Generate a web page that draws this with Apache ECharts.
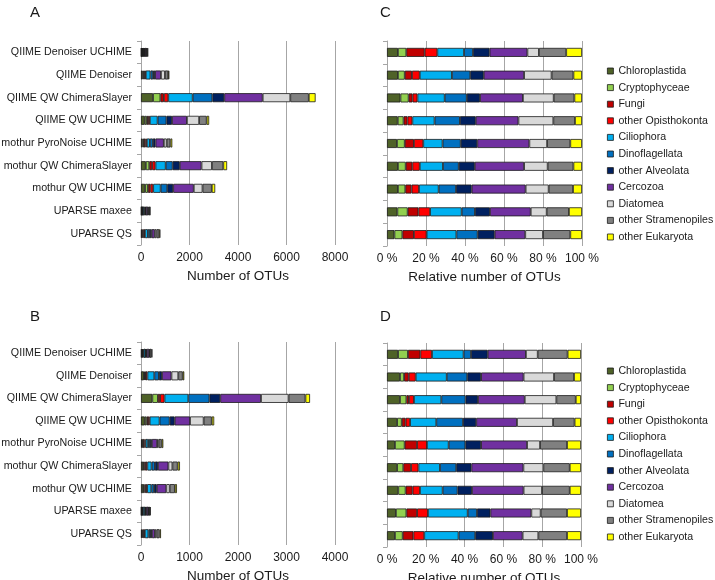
<!DOCTYPE html>
<html>
<head>
<meta charset="utf-8">
<script src="https://cdn.jsdelivr.net/npm/echarts@6/dist/echarts.min.js"></script>
<style>
html,body{margin:0;padding:0;background:#fff;}
#chart{width:715px;height:580px;}
</style>
</head>
<body>
<div id="chart"></div>
<script>
// ---- data ----
const categories = ['QIIME Denoiser UCHIME','QIIME Denoiser','QIIME QW ChimeraSlayer','QIIME QW UCHIME','mothur PyroNoise UCHIME','mothur QW ChimeraSlayer','mothur QW UCHIME','UPARSE maxee','UPARSE QS'];
const groups = ['Chloroplastida','Cryptophyceae','Fungi','other Opisthokonta','Ciliophora','Dinoflagellata','other Alveolata','Cercozoa','Diatomea','other Stramenopiles','other Eukaryota'];

// total number of OTUs (panels A and B)
const totalsA = [290, 1170, 7200, 2810, 1290, 3550, 3060, 385, 800];
const totalsB = [233, 892, 3485, 1509, 460, 803, 741, 199, 412];

// relative share (%) per group, panel C (dataset of A)
const C_Chloroplastida      = [5.6, 5.6, 6.9, 5.5, 5.1, 5.6, 5.6, 5.3, 3.8];
const C_Cryptophyceae       = [4.3, 3.5, 4.2, 3.0, 4.0, 4.0, 3.8, 5.3, 4.1];
const C_Fungi               = [9.4, 3.7, 2.0, 2.0, 4.7, 3.4, 3.2, 5.5, 5.9];
const C_otherOpisthokonta   = [6.5, 4.0, 2.5, 2.5, 4.8, 3.8, 3.8, 6.0, 6.5];
const C_Ciliophora          = [13.7, 16.5, 14.0, 11.4, 9.9, 11.9, 10.1, 16.2, 15.3];
const C_Dinoflagellata      = [4.6, 9.4, 11.3, 13.0, 9.3, 8.1, 8.9, 6.8, 10.9];
const C_otherAlveolata      = [8.5, 6.9, 6.8, 8.1, 8.5, 8.2, 8.0, 7.7, 8.7];
const C_Cercozoa            = [19.4, 20.7, 22.0, 21.9, 26.7, 25.3, 27.7, 20.9, 15.7];
const C_Diatomea            = [5.9, 14.1, 15.8, 17.9, 9.1, 12.1, 11.8, 8.2, 9.1];
const C_otherStramenopiles  = [14.0, 11.2, 10.6, 11.1, 11.9, 13.2, 12.5, 11.4, 14.0];
const C_otherEukaryota      = [8.1, 4.4, 3.9, 3.6, 6.0, 4.4, 4.6, 6.7, 6.0];

// relative share (%) per group, panel D (dataset of B)
const D_Chloroplastida      = [5.7, 6.7, 6.7, 5.2, 4.1, 5.2, 5.8, 4.6, 4.1];
const D_Cryptophyceae       = [5.1, 2.1, 3.3, 2.4, 5.0, 3.2, 3.8, 5.4, 4.0];
const D_Fungi               = [6.4, 2.4, 1.3, 2.0, 6.4, 4.0, 3.6, 5.5, 5.5];
const D_otherOpisthokonta   = [6.0, 3.6, 2.6, 2.3, 5.1, 3.8, 3.8, 5.6, 5.6];
const D_Ciliophora          = [16.3, 16.0, 14.1, 13.5, 11.2, 11.1, 11.7, 20.5, 17.7];
const D_Dinoflagellata      = [3.8, 10.6, 12.5, 13.8, 8.6, 8.4, 7.7, 4.8, 8.6];
const D_otherAlveolata      = [8.6, 7.1, 6.4, 6.8, 8.1, 7.8, 7.4, 6.9, 9.1];
const D_Cercozoa            = [19.7, 21.9, 24.1, 21.0, 23.7, 26.8, 26.6, 21.1, 15.3];
const D_Diatomea            = [6.1, 15.7, 16.3, 18.6, 6.7, 10.3, 9.5, 4.8, 8.1];
const D_otherStramenopiles  = [15.4, 10.3, 10.0, 11.1, 13.9, 13.6, 14.3, 13.6, 14.8];
const D_otherEukaryota      = [6.9, 3.6, 2.7, 3.3, 7.2, 5.8, 5.8, 7.2, 7.2];

const ticksA = [0, 2000, 4000, 6000, 8000];
const ticksB = [0, 1000, 2000, 3000, 4000];
const ticksPct = [0, 20, 40, 60, 80, 100];

// ---- styles ----
const colors = ['#4F6228','#92D050','#C00000','#FF0000','#00B0F0','#0070C0','#002060','#7030A0','#D9D9D9','#808080','#FFFF00'];
const FONT = '"Liberation Sans", Arial, sans-serif';
const TXT = '#1a1a1a';
const GRIDC = '#a6a6a6';

const sharesC = [C_Chloroplastida,C_Cryptophyceae,C_Fungi,C_otherOpisthokonta,C_Ciliophora,C_Dinoflagellata,C_otherAlveolata,C_Cercozoa,C_Diatomea,C_otherStramenopiles,C_otherEukaryota];
const sharesD = [D_Chloroplastida,D_Cryptophyceae,D_Fungi,D_otherOpisthokonta,D_Ciliophora,D_Dinoflagellata,D_otherAlveolata,D_Cercozoa,D_Diatomea,D_otherStramenopiles,D_otherEukaryota];

function rowSums(sh){ return categories.map((c,i)=>sh.reduce((s,a)=>s+a[i],0)); }
const sumC = rowSums(sharesC), sumD = rowSums(sharesD);

function xAxisFor(grid, ticks, pct){
  return {
    type:'value', gridIndex:grid, min:ticks[0], max:ticks[ticks.length-1], interval:ticks[1]-ticks[0],
    axisLine:{show:false}, axisTick:{show:false},
    splitLine:{show:true, lineStyle:{color:GRIDC, width:1}},
    axisLabel:{fontSize:12, fontFamily:FONT, color:TXT, margin:7,
      formatter: pct ? (v => v + ' %') : (v => String(v))},
    name: pct ? 'Relative number of OTUs' : 'Number of OTUs',
    nameLocation:'middle', nameGap:24,
    nameTextStyle:{fontSize:13.5, fontFamily:FONT, color:TXT}
  };
}
function yAxisFor(grid, showLabels){
  return {
    type:'category', gridIndex:grid, data:categories, inverse:true,
    axisLine:{show:true, lineStyle:{color:GRIDC, width:1}},
    axisTick:{show:true, length:4, lineStyle:{color:GRIDC}},
    axisLabel:{show:showLabels, fontSize:10.7, fontFamily:FONT, color:TXT, margin:9}
  };
}

const series = [];
function addPanel(idx, shares, sums, totals){
  groups.forEach((g,k)=>{
    const data = categories.map((c,i)=> totals ? totals[i]*shares[k][i]/sums[i] : shares[k][i]*100/sums[i]);
    series.push({
      type:'bar', name:g, stack:'s'+idx, xAxisIndex:idx, yAxisIndex:idx,
      barWidth:9, data:data,
      itemStyle:{color:colors[k], borderColor:'#1a1a1a', borderWidth:0.8},
      emphasis:{disabled:true}
    });
  });
}
addPanel(0, sharesC, sumC, totalsA);
addPanel(1, sharesD, sumD, totalsB);
addPanel(2, sharesC, sumC, null);
addPanel(3, sharesD, sumD, null);

function legendAt(top){
  return {
    orient:'vertical', left:607, top:top, padding:0, data:groups,
    icon:'rect', itemWidth:6, itemHeight:6, itemGap:2.6,
    textStyle:{fontSize:10.6, fontFamily:FONT, color:TXT, lineHeight:14},
    itemStyle:{borderColor:'#1a1a1a', borderWidth:0.8},
    selectedMode:false
  };
}

const letterStyle = {fontSize:15, fontWeight:'normal', fontFamily:FONT, color:TXT};
const gridBase = {containLabel:false, outerBoundsMode:'none'};
const option = {
  animation:false,
  backgroundColor:'#fff',
  title:[
    {text:'A', left:25, top:0, textStyle:letterStyle},
    {text:'B', left:25, top:304, textStyle:letterStyle},
    {text:'C', left:375, top:0, textStyle:letterStyle},
    {text:'D', left:375, top:304, textStyle:letterStyle}
  ],
  grid:[
    Object.assign({left:141, top:41, width:194, height:204}, gridBase),
    Object.assign({left:141, top:342, width:194, height:203}, gridBase),
    Object.assign({left:387, top:41, width:195, height:205}, gridBase),
    Object.assign({left:387, top:343, width:194, height:204}, gridBase)
  ],
  xAxis:[ xAxisFor(0, ticksA, false), xAxisFor(1, ticksB, false), xAxisFor(2, ticksPct, true), xAxisFor(3, ticksPct, true) ],
  yAxis:[ yAxisFor(0,true), yAxisFor(1,true), yAxisFor(2,false), yAxisFor(3,false) ],
  legend:[ legendAt(64), legendAt(364) ],
  series:series
};

const chart = echarts.init(document.getElementById('chart'), null, {renderer:'canvas'});
chart.setOption(option);
</script>
</body>
</html>
